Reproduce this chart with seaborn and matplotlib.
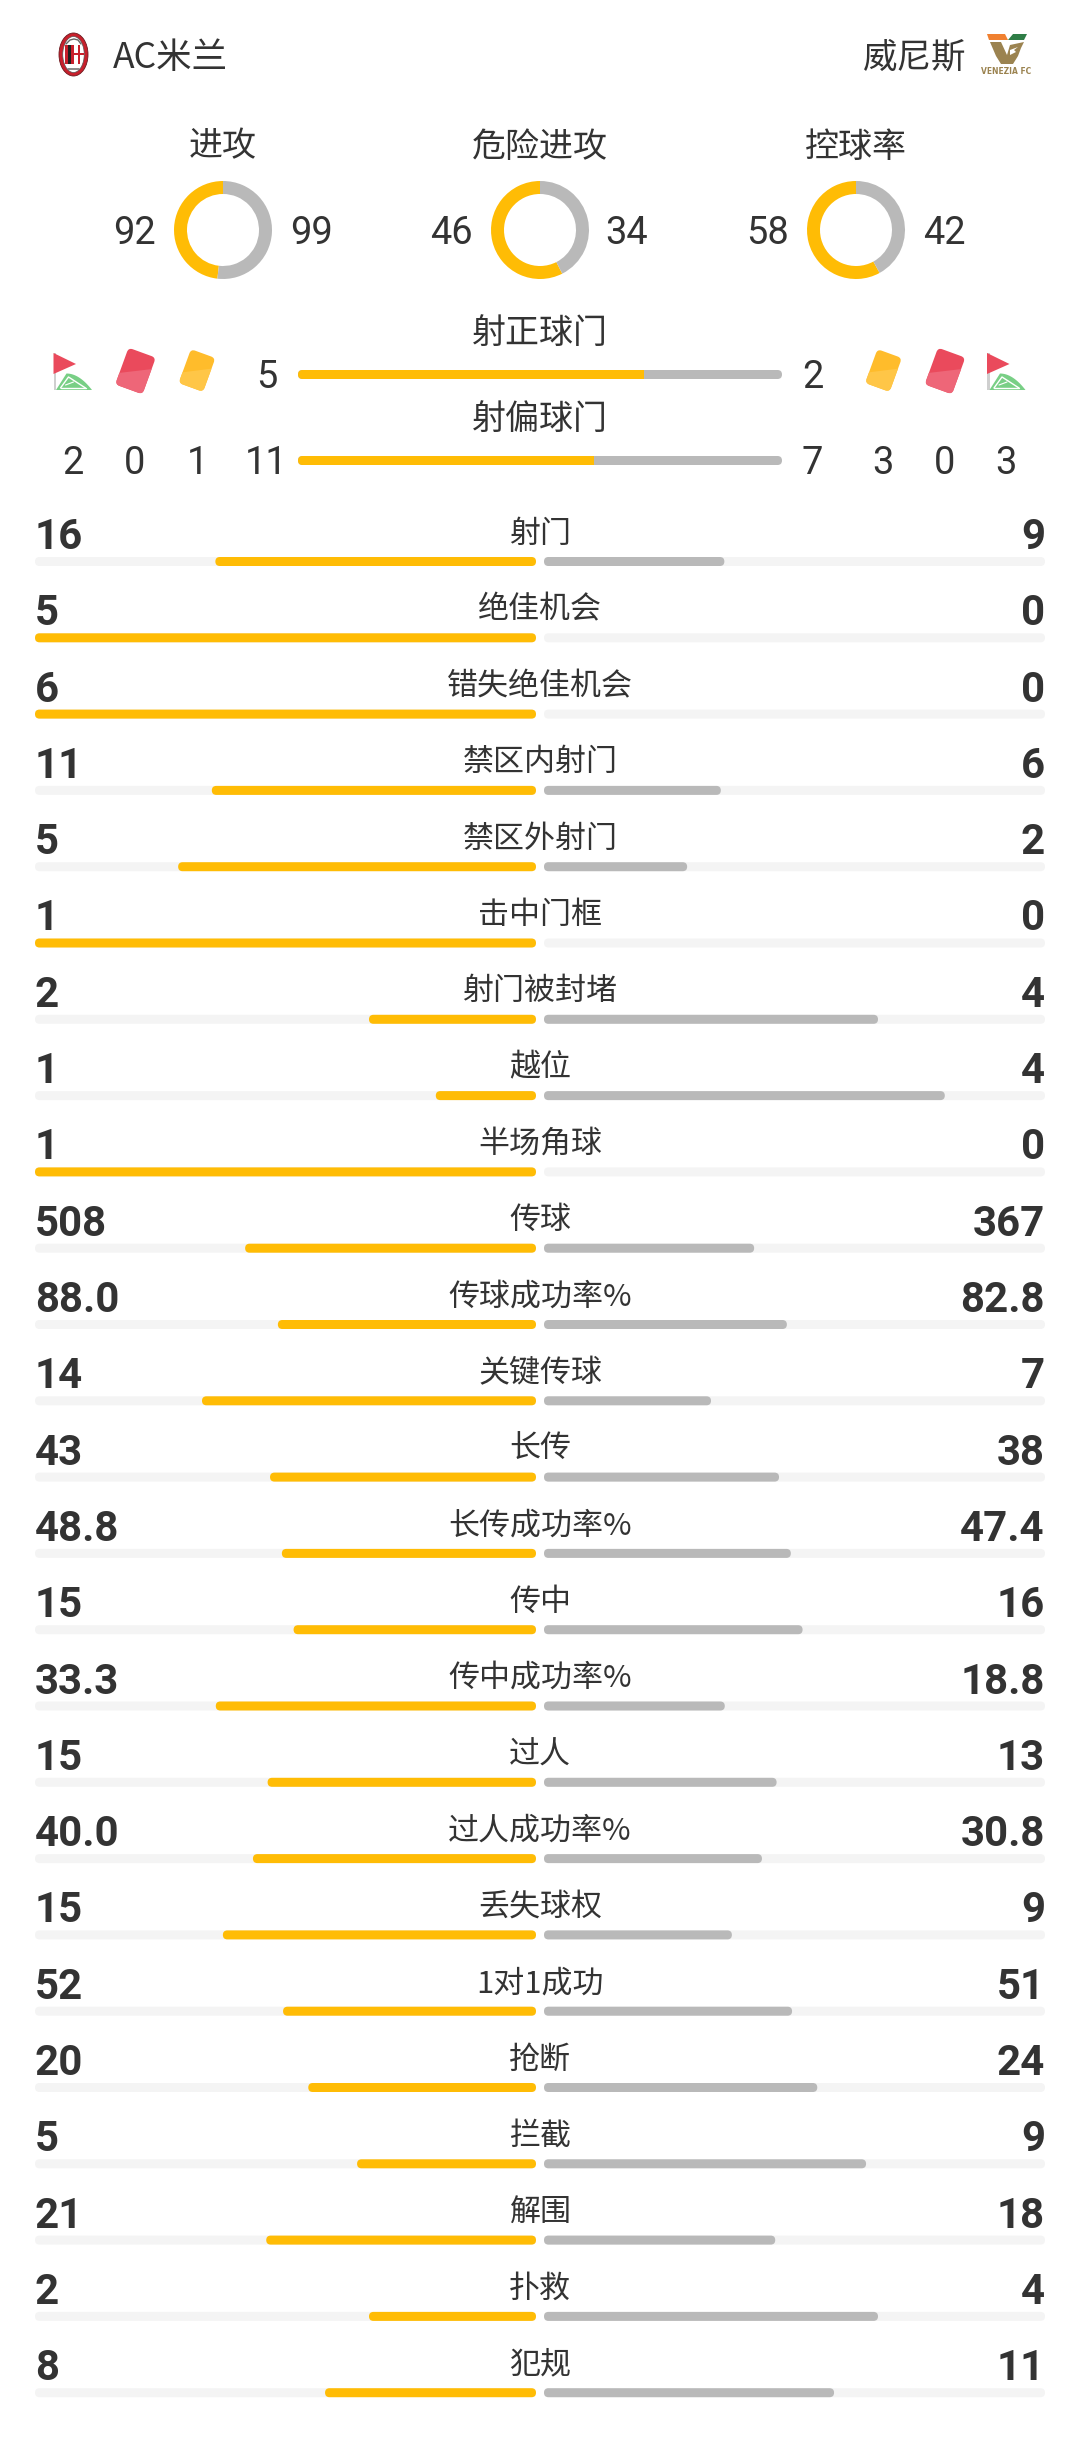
import numpy as np
import pandas as pd
import seaborn as sns
import matplotlib.pyplot as plt
from matplotlib.patches import FancyBboxPatch, Ellipse, Polygon, Rectangle
from matplotlib.transforms import Affine2D

sns.set_theme(style='white')
plt.rcParams['font.family'] = ['Noto Sans CJK SC', 'DejaVu Sans']

W, H = 1080, 2455
GOLD = '#FFBC05'
GREY = '#B9B9B9'
TRACK = '#F4F4F4'
INK = '#333333'
NUM_FONT = ['Roboto', 'DejaVu Sans']

home_team = 'AC米兰'
away_team = '威尼斯'

ring_labels = ['进攻', '危险进攻', '控球率']
ring_home = [92, 46, 58]
ring_away = [99, 34, 42]

goal_labels = ['射正球门', '射偏球门']
goal_home = [5, 11]
goal_away = [2, 7]

# corners, red cards, yellow cards (outer to inner)
home_cards = [2, 0, 1]
away_cards = [3, 0, 3]

stat_labels = ['射门', '绝佳机会', '错失绝佳机会', '禁区内射门', '禁区外射门', '击中门框', '射门被封堵',
               '越位', '半场角球', '传球', '传球成功率%', '关键传球', '长传', '长传成功率%', '传中',
               '传中成功率%', '过人', '过人成功率%', '丢失球权', '1对1成功', '抢断', '拦截', '解围', '扑救', '犯规']
home_stats = ['16', '5', '6', '11', '5', '1', '2', '1', '1', '508', '88.0', '14', '43', '48.8', '15',
              '33.3', '15', '40.0', '15', '52', '20', '5', '21', '2', '8']
away_stats = ['9', '0', '0', '6', '2', '0', '4', '4', '0', '367', '82.8', '7', '38', '47.4', '16',
              '18.8', '13', '30.8', '9', '51', '24', '9', '18', '4', '11']

df = pd.DataFrame({'label': stat_labels, 'home': home_stats, 'away': away_stats})
df['home_v'] = df['home'].astype(float)
df['away_v'] = df['away'].astype(float)
df['home_share'] = df['home_v'] / (df['home_v'] + df['away_v'])
df['away_share'] = df['away_v'] / (df['home_v'] + df['away_v'])
df['track'] = 1.0

goals = pd.DataFrame({'label': goal_labels, 'home': goal_home, 'away': goal_away})
goals['share'] = goals['home'] / (goals['home'] + goals['away'])
goals['track'] = 1.0

fig = plt.figure(figsize=(W / 100, H / 100), dpi=100, facecolor='white')


def px_axes(x0, y0, x1, y1):
    ax = fig.add_axes([x0 / W, 1 - y1 / H, (x1 - x0) / W, (y1 - y0) / H])
    return ax


main = px_axes(0, 0, W, H)
main.set_xlim(0, W)
main.set_ylim(H, 0)
main.axis('off')
main.patch.set_alpha(0)
main.set_zorder(5)


def put(x, y, s, size, ha='center', family=None, weight='normal', color=INK):
    # size is in pixels
    main.text(x, y, s, fontsize=size * 0.72, ha=ha, va='center_baseline', color=color,
              family=family if family else plt.rcParams['font.family'], weight=weight)


def patch_box(p):
    bb = p.get_window_extent()
    return bb.x0, H - bb.y1, bb.width, bb.height


def round_bars(ax):
    # swap seaborn's square bars for rounded ones at the same place
    boxes = []
    for p in list(ax.patches):
        boxes.append((patch_box(p), p.get_facecolor()))
        p.remove()
    for (x, y, w, h), c in boxes:
        if w < 1:
            continue
        main.add_patch(FancyBboxPatch((x, y), w, h, boxstyle='round,pad=0,rounding_size=%.1f' % min(4.5, w / 2),
                                      fc=c, ec='none', zorder=2))


# stat rows
row_first = 561.5
row_step = 76.3
n = len(df)
top = row_first - row_step / 2
bottom = row_first + row_step * (n - 0.5)

ax_l = px_axes(35, top, 536, bottom)
sns.barplot(data=df, y='label', x='track', color=TRACK, saturation=1, width=9 / row_step, orient='h', ax=ax_l)
sns.barplot(data=df, y='label', x='home_share', color=GOLD, saturation=1, width=9 / row_step, orient='h', ax=ax_l)
ax_l.set_xlim(1, 0)
ax_l.set_ylim(n - 0.5, -0.5)
ax_l.axis('off')

ax_r = px_axes(544, top, 1045, bottom)
sns.barplot(data=df, y='label', x='track', color=TRACK, saturation=1, width=9 / row_step, orient='h', ax=ax_r)
sns.barplot(data=df, y='label', x='away_share', color=GREY, saturation=1, width=9 / row_step, orient='h', ax=ax_r)
ax_r.set_xlim(0, 1)
ax_r.set_ylim(n - 0.5, -0.5)
ax_r.axis('off')

round_bars(ax_l)
round_bars(ax_r)

for i, row in df.iterrows():
    yb = row_first + i * row_step
    put(540, yb - 31, row['label'], 31)
    put(35, yb - 28.5, row['home'], 42, ha='left', family=NUM_FONT, weight='bold')
    put(1045, yb - 28.5, row['away'], 42, ha='right', family=NUM_FONT, weight='bold')

# on target / off target bars, the gold part ends square against the grey
bar_w = 484
ax_g = px_axes(298, 331.5, 298 + bar_w, 503.5)
sns.barplot(data=goals, y='label', x='track', color=GREY, saturation=1, width=9 / 86, orient='h', ax=ax_g)
sns.barplot(data=goals, y='label', x='share', color=GOLD, saturation=1, width=9 / 86, orient='h', ax=ax_g)
ax_g.set_xlim(0, 1)
ax_g.set_ylim(1.5, -0.5)
ax_g.axis('off')
bars = list(ax_g.patches)
for p in bars:
    x, y, w, h = patch_box(p)
    if w > bar_w - 2:
        main.add_patch(FancyBboxPatch((x, y), w, h, boxstyle='round,pad=0,rounding_size=4.5', fc=GREY, ec='none', zorder=2))
    else:
        gold = FancyBboxPatch((x, y), bar_w, h, boxstyle='round,pad=0,rounding_size=4.5', fc=GOLD, ec='none', zorder=3)
        main.add_patch(gold)
        clip = Rectangle((x, y - 1), w, h + 2, transform=main.transData)
        gold.set_clip_path(clip)
    p.remove()

put(540, 329.5, goal_labels[0], 34)
put(540, 415.5, goal_labels[1], 34)
put(266.5, 373, str(goal_home[0]), 38, family=NUM_FONT)
put(812.5, 373, str(goal_away[0]), 38, family=NUM_FONT)
put(266.5, 460, str(goal_home[1]), 38, family=NUM_FONT)
put(812.5, 460, str(goal_away[1]), 38, family=NUM_FONT)

for x, v in zip([72.5, 135, 198], home_cards):
    put(x, 460, str(v), 38, family=NUM_FONT)
for x, v in zip([883, 945, 1006], away_cards):
    put(x, 460, str(v), 38, family=NUM_FONT)

# rings
ring_x = [223, 540, 856]
home_num_x = [134, 451, 768]
away_num_x = [311, 627, 944]
for k in range(3):
    cx = ring_x[k]
    ax_p = px_axes(cx - 49, 181, cx + 49, 279)
    ax_p.pie([ring_home[k], ring_away[k]], colors=[GOLD, GREY], startangle=90, counterclock=True,
             radius=1, wedgeprops={'width': 13 / 49, 'linewidth': 0})
    ax_p.set_xlim(-1, 1)
    ax_p.set_ylim(-1, 1)
    put(cx, 143, ring_labels[k], 34)
    put(home_num_x[k], 229, str(ring_home[k]), 38, family=NUM_FONT)
    put(away_num_x[k], 229, str(ring_away[k]), 38, family=NUM_FONT)

# header
put(113, 54, home_team, 35.5, ha='left')
put(966, 54, away_team, 34.5, ha='right')


def card(cx, cy, w, h, base, light):
    tr = Affine2D().rotate_deg_around(cx, cy, 20) + main.transData
    body = FancyBboxPatch((cx - w / 2, cy - h / 2), w, h, boxstyle='round,pad=0,rounding_size=4.5',
                          fc=base, ec='none', transform=tr, zorder=3)
    main.add_patch(body)
    shine = Polygon([(cx + w / 2 + 1, cy - h * 0.2), (cx + w / 2 + 1, cy + h / 2 + 1), (cx - w / 2 - 1, cy + h / 2 + 1),
                     (cx - w / 2 - 1, cy + h * 0.2)], fc=light, ec='none', transform=tr, zorder=4)
    main.add_patch(shine)
    shine.set_clip_path(body)


def flag(x0):
    main.add_patch(Rectangle((x0, 353), 2.5, 37, fc='#CFCFCF', ec='none', zorder=3))
    main.add_patch(Polygon([(x0, 353), (x0 + 22.5, 364), (x0, 374)], fc='#EA4A5C', ec='none', zorder=4))
    t = np.linspace(0, 1, 20)
    arc = [(x0 + 13 + 25.5 * a, 373.5 + 16.5 * a ** 2) for a in t]
    main.add_patch(Polygon([(x0 + 2.5, 390)] + arc, fc='#78CF85', ec='none', zorder=4))
    main.plot([x0 + 7, x0 + 15, x0 + 32], [388, 377, 388], color='white', lw=1, zorder=5)
    main.plot([x0 + 7, x0 + 32], [388, 388], color='white', lw=1, zorder=5)
    main.plot([x0 + 12, x0 + 20], [385, 382], color='white', lw=0.8, zorder=5)


flag(53.5)
card(135.5, 371, 29, 39, '#EA4A5C', '#EE6678')
card(197, 370.5, 26, 36, '#FFBC2B', '#FFC647')
card(883.5, 370.5, 26, 36, '#FFBC2B', '#FFC647')
card(945, 371, 29, 39, '#EA4A5C', '#EE6678')
flag(987)

# AC Milan crest
main.add_patch(Ellipse((73.5, 54.5), 29, 43, fc='#C8202C', ec='#6B1A1F', lw=0.6, zorder=3))
main.add_patch(Ellipse((73.5, 54.5), 21.5, 36, fc='white', ec='#555555', lw=0.5, zorder=4))
for sx, sc in zip([64.5, 67.5, 70.5], ['#C8202C', '#222222', '#C8202C']):
    main.add_patch(Rectangle((sx, 45), 3, 19, fc=sc, ec='none', zorder=5))
main.add_patch(Rectangle((77.5, 45), 2.2, 19, fc='#C8202C', ec='none', zorder=5))
main.add_patch(Rectangle((73.5, 53), 10.5, 2.2, fc='#C8202C', ec='none', zorder=5))
main.plot([66, 70, 74, 78, 81], [44, 40, 39, 40, 44], color='#666666', lw=1, zorder=5)
main.plot([68, 79], [69, 69], color='#777777', lw=1.2, zorder=5)

# Venezia crest
main.add_patch(Polygon([(987, 34), (1005, 34), (1008, 40), (989, 40)], fc='#F08030', ec='none', zorder=3))
main.add_patch(Polygon([(1013, 34), (1027, 34), (1024, 40), (1008, 40)], fc='#2E7D46', ec='none', zorder=3))
main.add_patch(Polygon([(990, 42), (1001, 42), (1007, 55), (1010, 45), (1024, 42), (1021, 48), (1018, 56),
                        (1013, 64), (1001, 64), (996, 56)], fc='#9B8350', ec='none', zorder=3))
main.add_patch(Polygon([(1010, 50), (1018, 47), (1014, 50), (1016, 52), (1010, 55)], fc='white', ec='none', zorder=4))
main.text(1006.5, 71, 'VENEZIA FC', fontsize=6, ha='center', va='center', color='#9B8350', weight='bold',
          family='DejaVu Sans', stretch='condensed')

fig.savefig('out.png', dpi=100, facecolor='white')
